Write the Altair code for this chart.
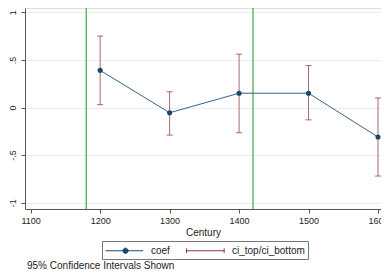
import altair as alt
import pandas as pd

century = [1200, 1300, 1400, 1500, 1600]
coef = [0.39, -0.055, 0.15, 0.15, -0.31]
ci_top = [0.75, 0.165, 0.56, 0.44, 0.10]
ci_bottom = [0.03, -0.29, -0.265, -0.13, -0.72]
vlines = [1180, 1420]
x_ticks = [1100, 1200, 1300, 1400, 1500, 1600]
y_ticks = [-1, -0.5, 0, 0.5, 1]
y_tick_labels = ["-1", "-.5", "0", ".5", "1"]
series = ["coef", "ci_top/ci_bottom"]
x_title = "Century"
footnote = "95% Confidence Intervals Shown"

NAVY = "#1a476f"
MAROON = "#90353b"
GREEN = "#4fae4f"
FONT = "Liberation Sans"

df = pd.DataFrame({"century": century, "coef": coef, "ci_top": ci_top, "ci_bottom": ci_bottom})
vdf = pd.DataFrame({"x": vlines})
ldf = pd.DataFrame({"series": series})

label_expr = " : ".join(
    f"datum.value == {v} ? '{l}'" for v, l in zip(y_ticks, y_tick_labels)
) + " : ''"

xscale = alt.Scale(domain=[1091.8, 1604.3], nice=False, zero=False)
yscale = alt.Scale(domain=[-1.066, 1.045], nice=False, zero=False)

xaxis = alt.Axis(values=x_ticks, format="d", title=x_title, grid=False,
                 tickSize=4, labelPadding=3, titlePadding=2,
                 domainColor="#555", tickColor="#555", labelColor="#222",
                 titleColor="#222", labelFontSize=9, titleFontSize=10,
                 titleFontWeight="normal", labelFont=FONT, titleFont=FONT,
                 labelFlush=False, labelOverlap=False)
yaxis = alt.Axis(values=y_ticks, labelExpr=label_expr, title=None, grid=True,
                 gridColor="#e8eff2", gridWidth=1, tickSize=4, labelPadding=4,
                 labelAngle=270, labelAlign="center", labelBaseline="bottom",
                 domainColor="#555", tickColor="#555", labelColor="#222",
                 labelFontSize=9, labelFont=FONT)

base = alt.Chart(df)

grid_layer = base.mark_point(opacity=0).encode(
    x=alt.X("century:Q", scale=xscale, axis=xaxis),
    y=alt.Y("coef:Q", scale=yscale, axis=yaxis),
)

vrules = alt.Chart(vdf).mark_rule(color=GREEN, strokeWidth=1.3).encode(
    x=alt.X("x:Q", scale=xscale)
)

ci_rule = base.mark_rule(color=MAROON, strokeWidth=1, opacity=0.75).encode(
    x=alt.X("century:Q", scale=xscale),
    y=alt.Y("ci_bottom:Q", scale=yscale),
    y2="ci_top:Q",
)
cap_top = base.mark_tick(color=MAROON, orient="horizontal", size=6, thickness=1, opacity=0.75).encode(
    x=alt.X("century:Q", scale=xscale),
    y=alt.Y("ci_top:Q", scale=yscale),
)
cap_bot = base.mark_tick(color=MAROON, orient="horizontal", size=6, thickness=1, opacity=0.75).encode(
    x=alt.X("century:Q", scale=xscale),
    y=alt.Y("ci_bottom:Q", scale=yscale),
)
line = base.mark_line(color=NAVY, strokeWidth=1, opacity=0.85).encode(
    x=alt.X("century:Q", scale=xscale),
    y=alt.Y("coef:Q", scale=yscale),
)
pts = base.mark_circle(color=NAVY, size=26, opacity=1).encode(
    x=alt.X("century:Q", scale=xscale),
    y=alt.Y("coef:Q", scale=yscale),
)

# legend symbols (unit r = 6px)
coef_path = ("M-1,0H1.9M2.77,0H5.28"
             "M1.9,0A0.43,0.43 0 1,0 2.77,0A0.43,0.43 0 1,0 1.9,0Z")
ci_path = "M-1,-0.4V0.4M-1,0H5.28M5.28,-0.4V0.4"

legend = alt.Legend(orient="none", legendX=77, legendY=233, direction="horizontal",
                    title=None, strokeColor="#777", padding=3, fillColor="white",
                    labelFontSize=10, labelFont=FONT, labelColor="#222",
                    labelOffset=33, columnPadding=14, symbolStrokeWidth=1,
                    symbolOpacity=1, symbolSize=144, cornerRadius=0)

leg_layer = alt.Chart(ldf).mark_point(opacity=0, filled=False).encode(
    x=alt.value(0), y=alt.value(0),
    stroke=alt.Stroke("series:N", scale=alt.Scale(domain=series, range=[NAVY, MAROON]), legend=legend),
    fill=alt.Fill("series:N", scale=alt.Scale(domain=series, range=[NAVY, "transparent"]), legend=legend),
    shape=alt.Shape("series:N", scale=alt.Scale(domain=series, range=[coef_path, ci_path]), legend=legend),
)

chart = alt.layer(grid_layer, vrules, ci_rule, cap_top, cap_bot, line, pts, leg_layer).properties(
    width=356, height=201,
    autosize=alt.AutoSizeParams(type="none"),
    padding={"left": 17, "top": 0, "right": 0, "bottom": 62},
    title=alt.TitleParams(footnote, orient="bottom", anchor="start", frame="group",
                          fontSize=10, font=FONT, fontWeight="normal", color="#222", offset=1, dx=2),
).configure_view(stroke=None).configure(background="white")

chart.save("out.html", embed_options={"renderer": "svg", "actions": False})
